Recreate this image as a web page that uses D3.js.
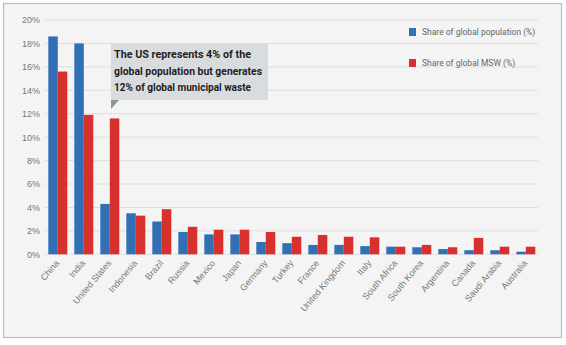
<!DOCTYPE html>
<html><head><meta charset="utf-8">
<script src="https://cdn.jsdelivr.net/npm/d3@7"></script>
<style>html,body{margin:0;padding:0;background:#fff;}svg{display:block;font-family:Roboto,"Liberation Sans",sans-serif;}</style>
</head><body>
<svg id="chart" width="566" height="345"></svg>
<script>
const categories = ["China","India","United States","Indonesia","Brazil","Russia","Mexico","Japan","Germany","Turkey","France","United Kingdom","Italy","South Africa","South Korea","Argentina","Canada","Saudi Arabia","Australia"];
const popShare = [18.6,18.0,4.3,3.5,2.8,1.9,1.7,1.7,1.05,0.95,0.8,0.8,0.7,0.65,0.6,0.45,0.35,0.35,0.22];
const mswShare = [15.6,11.9,11.6,3.3,3.85,2.35,2.1,2.1,1.9,1.5,1.65,1.5,1.45,0.65,0.8,0.6,1.4,0.65,0.65];
const seriesNames = ["Share of global population (%)","Share of global MSW (%)"];
const seriesColors = ["#3270b6","#d8302c"];
const yTicks = [0,2,4,6,8,10,12,14,16,18,20];
const noteLines = ["The US represents 4% of the","global population but generates","12% of global municipal waste"];

const svg = d3.select("#chart");
// background + border
svg.append("rect").attr("x",3.5).attr("y",3.5).attr("width",558).attr("height",334)
  .attr("fill","#f4f4f4").attr("stroke","#bcbcbc").attr("stroke-width",1.2);

const x0 = d3.scaleBand().domain(categories).range([44.8,538.8]).paddingInner(0.27).paddingOuter(0.135);
const x1 = d3.scaleBand().domain([0,1]).range([0,x0.bandwidth()]);
const y = d3.scaleLinear().domain([0,20]).range([254.3,20]);

// gridlines
svg.append("g").selectAll("line").data(yTicks).join("line")
  .attr("x1",45).attr("x2",538).attr("y1",d=>y(d)).attr("y2",d=>y(d))
  .attr("stroke","#dedede").attr("stroke-width",1);

// y axis
const yAxis = svg.append("g").attr("transform","translate(40,0)")
  .call(d3.axisLeft(y).tickValues(yTicks).tickFormat(d=>d+"%").tickSize(0).tickPadding(0));
yAxis.select(".domain").remove();
yAxis.selectAll("text").attr("fill","#777").attr("font-size","9px");

// bars
const data = categories.map((c,i)=>({c, vals:[popShare[i], mswShare[i]]}));
const groups = svg.append("g").selectAll("g").data(data).join("g")
  .attr("transform",d=>`translate(${x0(d.c)},0)`);
groups.selectAll("rect").data(d=>d.vals.map((v,k)=>({v,k}))).join("rect")
  .attr("x",d=>x1(d.k)).attr("width",x1.bandwidth())
  .attr("y",d=>y(d.v)).attr("height",d=>y(0)-y(d.v))
  .attr("fill",d=>seriesColors[d.k]);

// x axis labels
const xAxis = svg.append("g").attr("transform",`translate(0,${y(0)})`)
  .call(d3.axisBottom(x0).tickSize(0).tickPadding(0));
xAxis.select(".domain").remove();
xAxis.selectAll("text").attr("fill","#777").attr("font-size","9px")
  .attr("text-anchor","end").attr("dy",0)
  .attr("transform","translate(2,9) rotate(-50)");

// legend
const leg = svg.append("g");
seriesNames.forEach((n,i)=>{
  const yy = 32 + i*31;
  leg.append("rect").attr("x",409).attr("y",yy-4).attr("width",7).attr("height",8).attr("fill",seriesColors[i]);
  leg.append("text").attr("x",422).attr("y",yy+3).attr("font-size","8.5px").attr("fill","#666").text(n);
});

// annotation
const ann = svg.append("g");
ann.append("rect").attr("x",111).attr("y",43).attr("width",157).attr("height",57).attr("fill","#d9dcdf");
ann.append("path").attr("d","M111,100 L119,100 L111,109 Z").attr("fill","#8c959b");
const lens = [137,148,137];
noteLines.forEach((t,i)=>{
  ann.append("text").attr("x",114).attr("y",58+i*16.5).attr("font-size","11px").attr("font-weight","bold")
    .attr("fill","#1e1e1e").attr("textLength",lens[i]).attr("lengthAdjust","spacingAndGlyphs").text(t);
});
</script>
</body></html>
